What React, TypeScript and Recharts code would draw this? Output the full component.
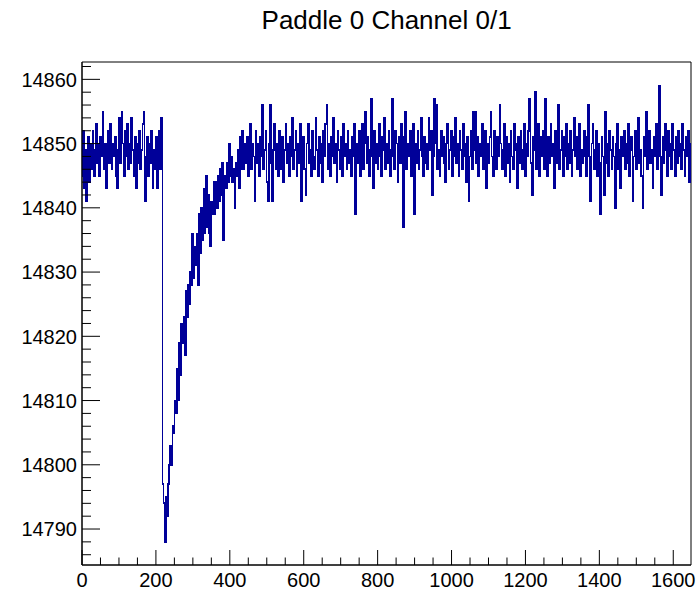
import React from 'react';
import { LineChart, Line, XAxis, YAxis, ReferenceArea } from 'recharts';

const TITLE = 'Paddle 0 Channel 0/1';
const FONT = '"Liberation Sans", Arial, Helvetica, sans-serif';
const LINE_COLOR = '#000099';

// each stored value stands for one point every SAMPLE_STEP samples
const SAMPLE_STEP = 3;
const X_DOMAIN: [number, number] = [0, 1648];
const Y_DOMAIN: [number, number] = [14784.4, 14862.7];

const xTicks = [0, 50, 100, 150, 200, 250, 300, 350, 400, 450, 500, 550, 600, 650, 700, 750, 800, 850, 900, 950, 1000, 1050, 1100, 1150, 1200, 1250, 1300, 1350, 1400, 1450, 1500, 1550, 1600];
const xLabelTicks = [0, 200, 400, 600, 800, 1000, 1200, 1400, 1600];
const yTicks = [14786, 14788, 14790, 14792, 14794, 14796, 14798, 14800, 14802, 14804, 14806, 14808, 14810, 14812, 14814, 14816, 14818, 14820, 14822, 14824, 14826, 14828, 14830, 14832, 14834, 14836, 14838, 14840, 14842, 14844, 14846, 14848, 14850, 14852, 14854, 14856, 14858, 14860, 14862];
const yLabelTicks = [14790, 14800, 14810, 14820, 14830, 14840, 14850, 14860];

// samples 0..216
const preSignal = [
  14845, 14852, 14843, 14849, 14841, 14847, 14851, 14844, 14850, 14846,
  14852, 14845, 14849, 14853, 14847, 14850, 14845, 14851, 14848, 14855,
  14846, 14850, 14843, 14849, 14852, 14847, 14853, 14846, 14850, 14848,
  14851, 14845, 14843, 14849, 14854, 14847, 14855, 14850, 14845, 14852,
  14848, 14853, 14846, 14850, 14847, 14854, 14849, 14845, 14851, 14843,
  14850, 14847, 14852, 14846, 14849, 14853, 14855, 14841, 14848, 14851,
  14845, 14850, 14847, 14852, 14843, 14849, 14846, 14851, 14843, 14848,
  14852, 14846, 14854,
];

// samples 219..441
const pulse = [
  14797, 14794, 14788, 14795, 14792, 14797, 14800, 14803, 14800, 14806,
  14805, 14810, 14808, 14815, 14810, 14819, 14814, 14822, 14819, 14823,
  14817, 14827, 14823, 14828, 14825, 14830, 14828, 14836, 14829, 14834,
  14831, 14836, 14828, 14839, 14833, 14840, 14835, 14843, 14836, 14845,
  14837, 14842, 14836, 14834, 14841, 14839, 14844, 14839, 14844, 14840,
  14845, 14841, 14846, 14842, 14847, 14835, 14845, 14843, 14847, 14844,
  14850, 14845, 14848, 14844, 14846, 14840, 14847, 14845, 14849, 14843,
  14851, 14846, 14852, 14846, 14850,
];

// samples 444..1647
const baseline = [
  14847, 14851, 14845, 14849, 14853, 14846, 14850, 14848, 14841, 14852,
  14847, 14850, 14845, 14851, 14848, 14856, 14846, 14849, 14852, 14844,
  14841, 14850, 14856, 14847, 14841, 14849, 14853, 14846, 14850, 14845,
  14852, 14848, 14846, 14851, 14844, 14849, 14853, 14847, 14850, 14845,
  14851, 14848, 14854, 14846, 14849, 14852, 14845, 14850, 14847, 14853,
  14841, 14849, 14851, 14846, 14842, 14850, 14853, 14847, 14849, 14845,
  14852, 14848, 14846, 14854, 14849, 14845, 14851, 14847, 14850, 14844,
  14852, 14848, 14853, 14856, 14846, 14850, 14845, 14851, 14848, 14854,
  14847, 14850, 14844, 14852, 14849, 14846, 14851, 14845, 14853, 14848,
  14850, 14846, 14852, 14847, 14849, 14845, 14851, 14848, 14853, 14839,
  14850, 14847, 14852, 14845, 14849, 14853, 14846, 14850, 14855, 14847,
  14851, 14845, 14849, 14857, 14848, 14843, 14852, 14847, 14850, 14846,
  14853, 14848, 14845, 14851, 14849, 14854, 14846, 14850, 14847, 14852,
  14845, 14849, 14857, 14848, 14846, 14852, 14850, 14844, 14851, 14847,
  14853, 14849, 14837, 14851, 14855, 14846, 14850, 14848, 14852, 14845,
  14849, 14853, 14839, 14850, 14847, 14852, 14846, 14849, 14854, 14848,
  14845, 14851, 14847, 14850, 14846, 14854, 14849, 14852, 14842, 14848,
  14857, 14850, 14856, 14846, 14849, 14845, 14852, 14848, 14851, 14847,
  14844, 14850, 14853, 14846, 14849, 14852, 14845, 14851, 14848, 14854,
  14847, 14850, 14845, 14852, 14849, 14846, 14853, 14848, 14850, 14844,
  14851, 14841, 14848, 14852, 14846, 14855, 14849, 14855, 14847, 14851,
  14845, 14850, 14848, 14853, 14846, 14849, 14852, 14843, 14850, 14847,
  14851, 14855, 14848, 14845, 14852, 14849, 14846, 14851, 14848, 14856,
  14850, 14846, 14849, 14853, 14845, 14851, 14847, 14850, 14844, 14852,
  14848, 14846, 14853, 14849, 14850, 14843, 14851, 14847, 14852, 14846,
  14849, 14853, 14845, 14850, 14848, 14852, 14857, 14847, 14842, 14851,
  14849, 14858, 14846, 14850, 14853, 14845, 14851, 14848, 14852, 14846,
  14857, 14849, 14845, 14851, 14847, 14853, 14848, 14850, 14843, 14852,
  14847, 14850, 14856, 14846, 14849, 14852, 14845, 14851, 14848, 14853,
  14846, 14850, 14847, 14852, 14845, 14849, 14854, 14848, 14851, 14846,
  14850, 14853, 14845, 14849, 14847, 14852, 14848, 14845, 14851, 14856,
  14848, 14841, 14850, 14853, 14846, 14849, 14852, 14845, 14850, 14847,
  14839, 14851, 14848, 14842, 14855, 14847, 14850, 14845, 14852, 14849,
  14846, 14851, 14848, 14840, 14850, 14853, 14846, 14849, 14843, 14851,
  14848, 14852, 14846, 14850, 14847, 14853, 14845, 14849, 14851, 14841,
  14848, 14852, 14846, 14850, 14854, 14847, 14849, 14845, 14840, 14851,
  14848, 14855, 14846, 14850, 14852, 14847, 14849, 14843, 14851, 14848,
  14853, 14846, 14850, 14859, 14848, 14842, 14851, 14847, 14853, 14849,
  14845, 14852, 14848, 14850, 14846, 14853, 14849, 14845, 14851, 14847,
  14852, 14848, 14850, 14846, 14853, 14849, 14845, 14851, 14848, 14852,
  14844, 14850,
];

const values = [...preSignal, ...pulse, ...baseline];
const data = values.map((v, i) => ({ sample: i * SAMPLE_STEP, adc: v }));

const XTick = (props: any) => {
  const { x, y, payload } = props;
  const major = xLabelTicks.includes(payload.value);
  return (
    <g>
      <line x1={x} y1={y} x2={x} y2={y - (major ? 15 : 7.5)} stroke="#000" strokeWidth={1} />
      {major && (
        <text x={x} y={y + 21.5} textAnchor="middle" fontSize={20} fontFamily={FONT} fill="#000">
          {payload.value}
        </text>
      )}
    </g>
  );
};

const YTick = (props: any) => {
  const { x, y, payload } = props;
  const major = yLabelTicks.includes(payload.value);
  return (
    <g>
      <line x1={x} y1={y} x2={x + (major ? 18 : 9)} y2={y} stroke="#000" strokeWidth={1} />
      {major && (
        <text x={x - 5} y={y + 7.2} textAnchor="end" fontSize={20} fontFamily={FONT} fill="#000">
          {payload.value}
        </text>
      )}
    </g>
  );
};

export default function App() {
  return (
    <div style={{ position: 'absolute', left: 0, top: 0, width: 698, height: 590, background: '#fff' }}>
      <svg width={698} height={50} style={{ position: 'absolute', left: 0, top: 0 }}>
        <text x={386.6} y={29.3} textAnchor="middle" fontSize={26} fontFamily={FONT} fill="#000">
          {TITLE}
        </text>
      </svg>
      <div style={{ position: 'absolute', left: 0, top: 0 }}>
        <LineChart width={698} height={590} data={data} margin={{ top: 62, right: 7, bottom: 0, left: 0 }}>
          <XAxis
            dataKey="sample"
            type="number"
            domain={X_DOMAIN}
            ticks={xTicks}
            interval={0}
            height={25}
            tickSize={0}
            tickMargin={0}
            tickLine={false}
            axisLine={{ stroke: '#000', strokeWidth: 1 }}
            tick={<XTick />}
            allowDataOverflow
          />
          <YAxis
            type="number"
            domain={Y_DOMAIN}
            ticks={yTicks}
            interval={0}
            width={82}
            tickSize={0}
            tickMargin={0}
            tickLine={false}
            axisLine={{ stroke: '#000', strokeWidth: 1 }}
            tick={<YTick />}
            allowDataOverflow
          />
          <ReferenceArea x1={X_DOMAIN[0]} x2={X_DOMAIN[1]} y1={Y_DOMAIN[0]} y2={Y_DOMAIN[1]} fill="none" fillOpacity={0} stroke="#000" strokeWidth={1} strokeOpacity={1} />
          <Line
            dataKey="adc"
            type="step"
            stroke={LINE_COLOR}
            strokeWidth={1.7}
            shapeRendering="crispEdges"
            dot={false}
            activeDot={false}
            isAnimationActive={false}
          />
        </LineChart>
      </div>
    </div>
  );
}
